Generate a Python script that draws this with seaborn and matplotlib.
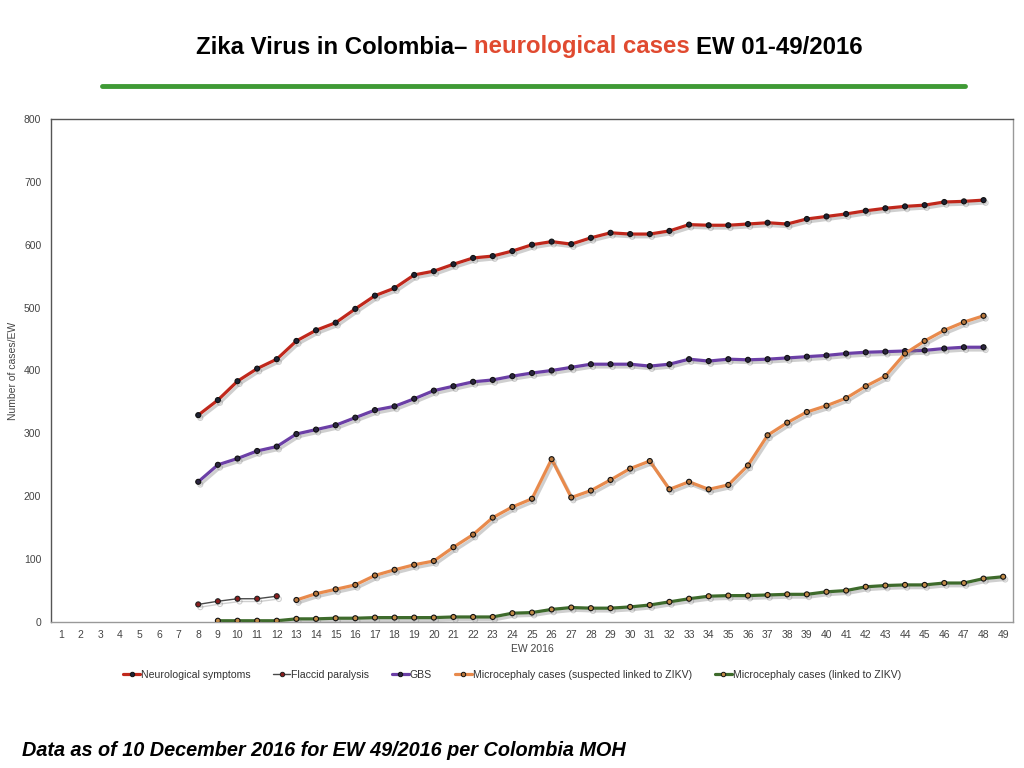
import numpy as np
import pandas as pd
import matplotlib
matplotlib.use("Agg")
import matplotlib.pyplot as plt
import matplotlib.patheffects as pe
from matplotlib.lines import Line2D
import seaborn as sns

# ---------------- data ----------------
weeks_all = list(range(1, 50))

neuro_weeks = list(range(8, 49))
neuro_vals = [329, 353, 383, 403, 418, 447, 464, 476, 498, 519, 531, 552, 558, 569, 579,
              582, 590, 600, 605, 601, 611, 619, 617, 617, 622, 632, 631, 631, 633, 635,
              633, 641, 645, 649, 654, 658, 661, 663, 668, 669, 671]

flaccid_weeks = list(range(8, 13))
flaccid_vals = [28, 33, 37, 37, 41]

gbs_weeks = list(range(8, 49))
gbs_vals = [223, 250, 260, 272, 279, 299, 306, 313, 325, 337, 343, 355, 368, 375, 382,
            385, 391, 396, 400, 405, 410, 410, 410, 407, 410, 418, 415, 418, 417, 418,
            420, 422, 424, 427, 429, 430, 431, 432, 435, 437, 437]

micro_susp_weeks = list(range(13, 49))
micro_susp_vals = [35, 45, 52, 59, 74, 83, 91, 97, 119, 139, 166, 183, 196, 259, 198,
                   209, 226, 244, 256, 211, 223, 211, 218, 249, 297, 317, 334, 344, 356,
                   375, 391, 427, 447, 464, 477, 487]

micro_link_weeks = list(range(9, 50))
micro_link_vals = [2, 2, 2, 2, 5, 5, 6, 6, 7, 7, 7, 7, 8, 8, 8, 14, 15, 20, 23, 22,
                   22, 24, 27, 32, 37, 41, 42, 42, 43, 44, 44, 48, 50, 56, 58, 59, 59,
                   62, 62, 69, 72]

series_names = ["Neurological symptoms", "Flaccid paralysis", "GBS",
                "Microcephaly cases (suspected linked to ZIKV)",
                "Microcephaly cases (linked to ZIKV)"]
y_ticks = [0, 100, 200, 300, 400, 500, 600, 700, 800]

# ---------------- style ----------------
sns.set_theme(style="white")
plt.rcParams["font.family"] = ["Liberation Sans", "DejaVu Sans"]

fig = plt.figure(figsize=(10.24, 7.68), dpi=100)
ax = fig.add_axes([51 / 1024, 1 - 622 / 768, (1013 - 51) / 1024, (622 - 119) / 768])

styles = [
    dict(color="#c0281c", lw=2.3, mfc="#1e2233", mec="#111111"),
    dict(color="#4a4a4a", lw=1.0, mfc="#8a1d1d", mec="#222222"),
    dict(color="#6b3fa6", lw=2.3, mfc="#2b2540", mec="#111111"),
    dict(color="#e88a4c", lw=2.3, mfc="#b8783e", mec="#111111"),
    dict(color="#3e6b2c", lw=2.3, mfc="#c08a48", mec="#111111"),
]
datasets = [
    (neuro_weeks, neuro_vals),
    (flaccid_weeks, flaccid_vals),
    (gbs_weeks, gbs_vals),
    (micro_susp_weeks, micro_susp_vals),
    (micro_link_weeks, micro_link_vals),
]

shadow = [pe.SimpleLineShadow(offset=(1.5, -2), shadow_color="#777777", alpha=0.35),
          pe.Normal()]

handles = []
for name, (wk, vals), st in zip(series_names, datasets, styles):
    df = pd.DataFrame({"week": wk, "value": vals})
    sns.lineplot(data=df, x="week", y="value", ax=ax, color=st["color"], lw=st["lw"],
                 marker="o", markersize=3.6, markerfacecolor=st["mfc"],
                 markeredgecolor=st["mec"], markeredgewidth=0.8, legend=False,
                 path_effects=shadow, zorder=3)
    handles.append(Line2D([], [], color=st["color"], lw=st["lw"], marker="o",
                          markersize=3.2, markerfacecolor=st["mfc"],
                          markeredgecolor=st["mec"], markeredgewidth=0.7, label=name))

ax.set_xlim(0.5, 49.5)
ax.set_ylim(0, 800)
ax.set_xticks(weeks_all)
ax.set_xticklabels([str(w) for w in weeks_all])
ax.set_yticks(y_ticks)
ax.set_yticklabels([str(v) for v in y_ticks])
ax.tick_params(axis="both", length=0, labelsize=7.5, colors="#444444", pad=6)
ax.tick_params(axis="y", pad=7)
ax.set_xlabel("EW 2016", fontsize=7.5, color="#444444", labelpad=3)
ax.set_ylabel("Number of cases/EW", fontsize=7.5, color="#444444", labelpad=4)
for side, sp in ax.spines.items():
    sp.set_visible(True)
    sp.set_linewidth(1.0)
    sp.set_color("#999999")
ax.spines["left"].set_color("#555555")
ax.spines["top"].set_color("#555555")
ax.spines["bottom"].set_color("#999999")
ax.grid(False)

fig.legend(handles=handles, loc="center", bbox_to_anchor=(0.5, 1 - 675 / 768),
           ncol=5, frameon=False, fontsize=7.6, handlelength=1.6, handletextpad=0.1,
           columnspacing=2.15, labelcolor="#333333")

# ---------------- title ----------------
ty = 1 - 47 / 768
t1 = fig.text(196 / 1024, ty, "Zika Virus in Colombia\u2013 ", fontsize=17.3,
              fontweight="bold", color="black", va="center", ha="left")
t2 = fig.text(0, 0, "neurological cases ", fontsize=17.3, fontweight="bold",
              color="#e04a30", va="center", ha="left")
t3 = fig.text(0, 0, "EW 01-49/2016", fontsize=17.3, fontweight="bold", color="black",
              va="center", ha="left")
fig.canvas.draw()
r = fig.canvas.get_renderer()
bb1 = t1.get_window_extent(r)
t2.set_position((bb1.x1 / fig.bbox.width, ty))
fig.canvas.draw()
bb2 = t2.get_window_extent(r)
t3.set_position((bb2.x1 / fig.bbox.width, ty))

fig.add_artist(Line2D([102 / 1024, 965 / 1024], [1 - 86 / 768, 1 - 86 / 768],
                      color="#3f9a35", lw=3.5, transform=fig.transFigure))

fig.text(22 / 1024, 1 - 750 / 768,
         "Data as of 10 December 2016 for EW 49/2016 per Colombia MOH",
         fontsize=14.3, fontweight="bold", fontstyle="italic", color="black",
         va="center", ha="left")

fig.savefig("out.png", dpi=100, facecolor="white")
